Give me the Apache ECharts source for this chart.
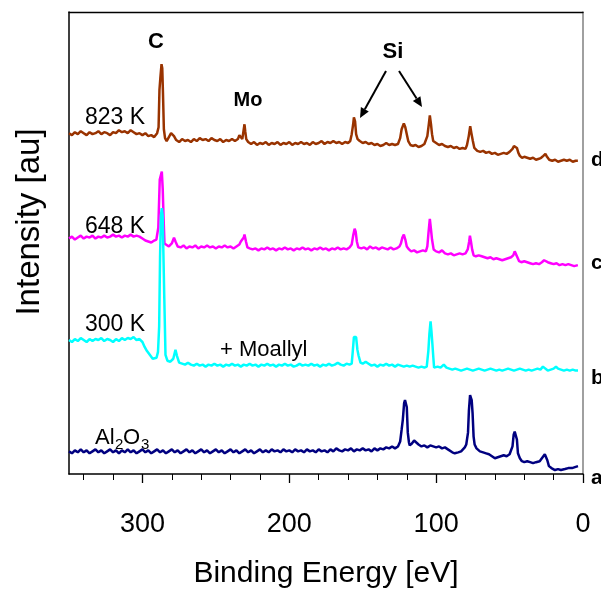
<!DOCTYPE html>
<html><head><meta charset="utf-8">
<script src="https://cdn.jsdelivr.net/npm/echarts@6/dist/echarts.min.js"></script>
<style>html,body{margin:0;padding:0;background:#fff}#c{width:601px;height:594px}</style>
</head><body><div id="c"></div>
<script>
// Binding energy tick labels (eV)
const majorTicks = [0, 100, 200, 300];
const minorTicks = [20, 40, 60, 80, 120, 140, 160, 180, 220, 240, 260, 280, 320, 340];
const seriesNames = ['823 K', '648 K', '300 K', 'Al2O3'];
const seriesColors = ['#993300', '#FF00FF', '#00FFFF', '#000080'];

// d: 823 K  [binding energy eV, intensity au]
const spectrumD = [[350,346],[348,344],[346,347],[344,345],[342,348],[340,346],[338,344],[336,347],[334,345],[332,346],[330,348],[328,345],[326,347],[324,346],[322,344],[320,347],[318,346],[316,349],[314,347],[312,348],[310,346],[308,349],[306,347],[304,345],[302,346],[300,344],[298,346],[296,343],[294,344],[292,342],[290,346],[289,352],[288.4,390],[287.8,402],[287,416],[286.5,412],[286,386],[285.4,350],[284.6,341],[283.5,338],[282,342],[280.5,346],[279.5,347],[278.5,343],[277,339],[275,337],[273,340],[271,338],[269,339],[267,337],[265,340],[263,338],[261,341],[259,339],[257,340],[255,338],[253,341],[251,339],[249,338],[247,340],[245,337],[243,339],[241,338],[239,340],[237,338],[235,340],[234,344],[233,342],[232,340],[231,350],[230.5,355],[230,348],[229.3,340],[228,337],[226,335],[224,337],[222,334],[220,336],[218,335],[216,337],[214,334],[212,336],[210,335],[208,337],[206,334],[204,336],[202,335],[200,337],[198,334],[196,336],[194,335],[192,337],[190,335],[188,336],[186,334],[184,337],[182,335],[180,336],[178,338],[176,335],[174,337],[172,336],[170,338],[168,336],[166,337],[164,335],[162,337],[160,336],[158.5,338],[157.5,345],[156.5,355],[156,362],[155.2,358],[154.5,345],[153.5,340],[152,338],[150,336],[148,337],[146,335],[144,336],[142,334],[140,335],[138,333],[136,334],[134,336],[132,334],[130,335],[128,334],[126,335],[124.5,341],[123.5,350],[122,356],[121,352],[120,345],[119,338],[117.5,334],[116,333],[114,334],[112,332],[110,333],[108,335],[107,337],[106,343],[105,355],[104.3,364],[103.5,355],[102.8,345],[102,338],[100,336],[98,334],[96,335],[94,333],[92,332],[90,333],[88,331],[86,332],[84,330],[82,331],[80,330],[79,334],[77.8,343],[76.8,353],[76,346],[75,338],[74,331],[72,328],[70,327],[68,328],[66,326],[64,327],[62,325],[60,326],[58,324],[56,325],[54,326],[52,325],[50,327],[48,330],[47,333],[46,335],[45,331],[44,326],[43,323],[41.5,321],[40,322],[38,321],[36,320],[34,321],[32,319],[30,320],[28.5,321],[27,323],[25.6,325],[24.5,322],[23,319],[21,318],[19,319],[17,317],[15,318],[13,319],[11,318],[9,319],[7,317],[5,318],[3.5,318]];

// c: 648 K
const spectrumC = [[350,239],[348,241],[346,238],[344,240],[342,242],[340,239],[338,241],[336,240],[334,242],[332,239],[330,241],[328,240],[326,242],[324,240],[322,241],[320,243],[318,241],[316,242],[314,240],[312,242],[310,241],[308,243],[306,241],[304,242],[302,241],[300,239],[298,237],[296,236],[294,235],[292,237],[290.5,238],[289.2,250],[288.2,299],[287.6,301],[286.8,307],[286.2,290],[285.6,260],[285,234],[284,232],[282,231],[280,234],[278.5,240],[277.5,236],[276,231],[274,230],[272,232],[270,229],[268,231],[266,230],[264,232],[262,229],[260,231],[258,230],[256,232],[254,230],[252,231],[250,229],[248,231],[246,230],[244,232],[242,230],[240,231],[238,229],[236,231],[234,233],[233,236],[232,235],[231,240],[230.5,243],[229.5,236],[228.5,230],[227,229],[225,228],[223,229],[221,227],[219,229],[217,228],[215,230],[213,228],[211,229],[209,227],[207,229],[205,228],[203,230],[201,228],[199,229],[197,227],[195,229],[193,228],[191,230],[189,228],[187,229],[185,227],[183,229],[181,228],[179,230],[177,228],[175,229],[173,227],[171,229],[169,228],[167,230],[165,228],[163,229],[161,228],[159,230],[157.5,233],[156.5,242],[155.5,249],[154.8,246],[154,236],[153,230],[151,229],[149,230],[147,228],[145,231],[143,229],[141,230],[139,228],[137,230],[135,229],[133,228],[131,230],[129,228],[127,229],[125,231],[124,234],[123,240],[122,243],[121,238],[120,231],[118.5,228],[117,226],[115,227],[113,225],[111,226],[109,227],[107,226],[106,231],[105.2,245],[104.3,259],[103.5,248],[102.8,238],[101.7,228],[100,226],[98,225],[96,227],[95.5,228],[94,224],[92,223],[90,224],[88,222],[86,223],[84,224],[82,223],[80,224],[78.5,228],[77.5,236],[77,242],[76.3,236],[75.5,228],[74.5,222],[73,221],[71,222],[69,221],[67,220],[65,219],[63,220],[61,218],[59,219],[57,218],[55,217],[53,218],[51,219],[49,220],[47.5,222],[46.5,226],[45.9,227],[45,221],[43.5,216],[42,215],[40,216],[38,215],[36,214],[34,213],[32,214],[30,213],[28,215],[26.5,217],[25.2,218],[24,215],[22,214],[20,213],[18,214],[16,212],[14,213],[12,212],[10,213],[8,212],[6,211],[3.5,212]];

// b: 300 K (+ Moallyl)
const spectrumB = [[350,136],[348,134],[346,137],[344,135],[342,138],[340,136],[338,134],[336,137],[334,135],[332,137],[330,136],[328,138],[326,135],[324,137],[322,136],[320,134],[318,137],[316,135],[314,138],[312,136],[310,138],[308,137],[306,139],[304,136],[302,137],[300,134],[298.5,129],[297,125],[295,121],[293,117],[291.8,115],[290.4,118],[289.4,124],[288.6,150],[288,220],[287.4,262],[286.8,270],[286.2,262],[285.8,230],[285.1,178],[284.3,121],[283,115],[281,114],[279,117],[277.5,126],[276.5,120],[275,113],[273,112],[271,111],[269,113],[267,111],[265,110],[263,112],[261,110],[259,111],[257,109],[255,111],[253,110],[251,112],[249,110],[247,111],[245,109],[243,111],[241,110],[239,112],[237,110],[235,111],[233,109],[231,111],[229,110],[227,112],[225,110],[223,111],[221,109],[219,111],[217,110],[215,112],[213,110],[211,111],[209,109],[207,111],[205,110],[203,112],[201,110],[199,111],[197,109],[195,110],[193,112],[191,110],[189,111],[187,110],[185,112],[183,110],[181,111],[179,109],[177,111],[175,110],[173,112],[171,110],[169,111],[167,113],[165,111],[163,110],[161,112],[159,111],[157.5,112],[156.8,124],[156,139],[154.5,139],[153.6,126],[152.8,120],[151.5,113],[150,112],[148,114],[146,112],[144,110],[142,111],[140,109],[138,111],[136,110],[134,112],[132,110],[130,111],[128,109],[126,111],[124,110],[122,109],[120,110],[118,109],[116,110],[114,109],[112,108],[110,109],[108,108],[106.4,109],[105.3,125],[104.6,142],[103.8,155],[103.2,145],[102.6,133],[101.9,118],[101.4,108],[99,109],[97,108],[94.8,111],[93,108],[91,107],[89,106],[87,107],[85,106],[83,105],[81,106],[79,107],[77,106],[75,105],[73,106],[71,107],[69,106],[67,105],[65,106],[63,107],[61,106],[59,105],[57,106],[55,105],[53,106],[51,107],[49,106],[47,105],[45,106],[43,107],[41,106],[39,105],[37,106],[35,105],[33,106],[31,107],[29,106],[27.3,109],[26,107],[24,105],[22,106],[20,107],[18.4,109],[17,107],[15,106],[13,105],[11,106],[9,105],[7,106],[5,105],[3.4,105]];

// a: Al2O3
const spectrumA = [[350,23],[348,21],[346,24],[344,22],[342,25],[340,22],[338,24],[336,21],[334,23],[332,25],[330,22],[328,24],[326,21],[324,23],[322,25],[320,22],[318,24],[316,21],[314,24],[312,22],[310,25],[308,22],[306,24],[304,21],[302,23],[300,25],[298,22],[296,24],[294,21],[292,23],[290,25],[288,22],[286,24],[284,21],[282,23],[280,25],[278,22],[276,24],[274,21],[272,23],[270,25],[268,22],[266,24],[264,21],[262,23],[260,25],[258,22],[256,24],[254,21],[252,23],[250,25],[248,22],[246,24],[244,21],[242,23],[240,25],[238,22],[236,24],[234,21],[232,23],[230,25],[228,22],[226,24],[224,21],[222,23],[220,25],[218,22],[216,24],[214,22],[212,25],[210,23],[208,24],[206,22],[204,25],[202,23],[200,24],[198,22],[196,25],[194,23],[192,24],[190,22],[188,25],[186,23],[184,24],[182,22],[180,25],[178,23],[176,24],[174,22],[172,25],[170,23],[168,26],[166,24],[164,23],[162,25],[160,24],[158,26],[156,23],[154,25],[152,24],[150,26],[148,24],[146,25],[144,23],[142,26],[140,24],[138,26],[136,25],[134,27],[132,26],[130,28],[128,26],[126,28],[124.5,33],[123.5,45],[122.7,55],[121.8,72],[121.2,75],[120.5,73],[120,68],[119.3,42],[118.5,32],[118,29],[116.5,31],[115,34],[114,32],[112,30],[110,28],[108,29],[106,27],[104,29],[102,28],[100,27],[98,28],[96,26],[94,27],[92,25],[90.7,24],[89,22],[87.3,21],[85,22],[83,23],[82,24],[80.5,27],[79.5,30],[78.3,42],[77.7,64],[76.9,80],[76.4,82],[75.8,75],[75.2,62],[74.5,38],[73.8,30],[72.5,26],[70.2,23],[68,22],[66,21],[64,20],[62,18],[60,16],[58,17],[56,18],[54,19],[52,18],[50,20],[49,21],[48,28],[47.2,40],[46.5,43],[45.7,42],[45,35],[44.3,21],[43,16],[41.6,13],[40,12],[38,13],[36,12],[34,11],[32,12],[31,11],[29.5,13],[28,16],[27.3,18],[26,20],[25.2,21],[24.3,14],[23.2,8],[21.5,6],[19.1,4],[17,5],[15,4],[12.3,5],[10,6],[7.5,6],[5.5,7],[3.4,8]];

const FONT = "'Liberation Sans', Arial, sans-serif";
const chart = echarts.init(document.getElementById('c'), null, {renderer: 'canvas'});

function txt(text, x, y, size, bold, align, rot) {
  return {type: 'text', x: x, y: y, rotation: rot || 0, silent: true, z: 100,
    style: {text: text, font: (bold ? 'bold ' : '') + size + 'px ' + FONT, fill: '#000',
      align: align || 'center', verticalAlign: 'middle'}};
}
function arrow(x1, y1, x2, y2) {
  const dx = x2 - x1, dy = y2 - y1, L = Math.sqrt(dx*dx + dy*dy);
  const ux = dx / L, uy = dy / L, hl = 10, hw = 4.5;
  const bx = x2 - hl*ux, by = y2 - hl*uy;
  return [
    {type: 'line', silent: true, z: 100, shape: {x1: x1, y1: y1, x2: bx, y2: by}, style: {stroke: '#000', lineWidth: 2}},
    {type: 'polygon', silent: true, z: 100, shape: {points: [[x2, y2], [bx + hw*uy, by - hw*ux], [bx - hw*uy, by + hw*ux]]}, style: {fill: '#000'}}
  ];
}

const dataSets = [spectrumD, spectrumC, spectrumB, spectrumA];
const series = dataSets.map((d, i) => ({
  name: seriesNames[i], type: 'line', data: d, showSymbol: false, symbol: 'none',
  xAxisIndex: 0, yAxisIndex: 0,
  lineStyle: {color: seriesColors[i], width: 2.5}, z: 2 + i
}));

const axisBase = {type: 'value', min: 0, max: 350, inverse: true, splitLine: {show: false}};
const option = {
  animation: false,
  backgroundColor: '#fff',
  grid: {left: 69, right: 18, top: 12, bottom: 113, containLabel: false},
  xAxis: [
    Object.assign({}, axisBase, {position: 'bottom',
      axisLine: {show: true, onZero: false, lineStyle: {color: '#000', width: 1.5}},
      axisTick: {show: true, inside: false, length: 9, customValues: majorTicks, lineStyle: {color: '#000', width: 1.3}},
      axisLabel: {show: true, customValues: majorTicks, fontSize: 27, color: '#000', fontFamily: FONT, margin: 37},
      name: 'Binding Energy [eV]', nameLocation: 'middle', nameGap: 85,
      nameTextStyle: {fontSize: 30, color: '#000', fontFamily: FONT}}),
    Object.assign({}, axisBase, {position: 'bottom',
      axisLine: {show: false, onZero: false},
      axisTick: {show: true, inside: false, length: 6, customValues: minorTicks, lineStyle: {color: '#000', width: 1}},
      axisLabel: {show: false}}),
    Object.assign({}, axisBase, {position: 'top',
      axisLine: {show: true, onZero: false, lineStyle: {color: '#000', width: 1.3}},
      axisTick: {show: false}, axisLabel: {show: false}})
  ],
  yAxis: [
    {type: 'value', min: 0, max: 469, position: 'left', splitLine: {show: false},
      axisLine: {show: true, onZero: false, lineStyle: {color: '#000', width: 1.5}},
      axisTick: {show: false}, axisLabel: {show: false}},
    {type: 'value', min: 0, max: 469, position: 'right', splitLine: {show: false},
      axisLine: {show: true, onZero: false, lineStyle: {color: '#808080', width: 1.5}},
      axisTick: {show: false}, axisLabel: {show: false}}
  ],
  series: series,
  graphic: [
    txt('Intensity [au]', 30, 222, 33, false, 'center', Math.PI / 2),
    txt('C', 156, 42, 22, true),
    txt('Mo', 248, 100, 20, true),
    txt('Si', 393, 52, 22, true),
    txt('823 K', 115, 118, 23, false),
    txt('648 K', 115, 227, 23, false),
    txt('300 K', 115, 325, 23, false),
    txt('+ Moallyl', 220, 350, 22, false, 'left'),
    txt('Al', 95, 438, 22, false, 'left'),
    txt('2', 115, 445, 15, false, 'left'),
    txt('O', 123, 438, 22, false, 'left'),
    txt('3', 141, 445, 15, false, 'left'),
    txt('d', 591, 160, 21, true, 'left'),
    txt('c', 591, 263, 21, true, 'left'),
    txt('b', 591, 378, 21, true, 'left'),
    txt('a', 591, 478, 21, true, 'left')
  ].concat(arrow(386, 71, 360, 118), arrow(399, 71, 422, 107))
};
chart.setOption(option);
</script>
</body></html>
